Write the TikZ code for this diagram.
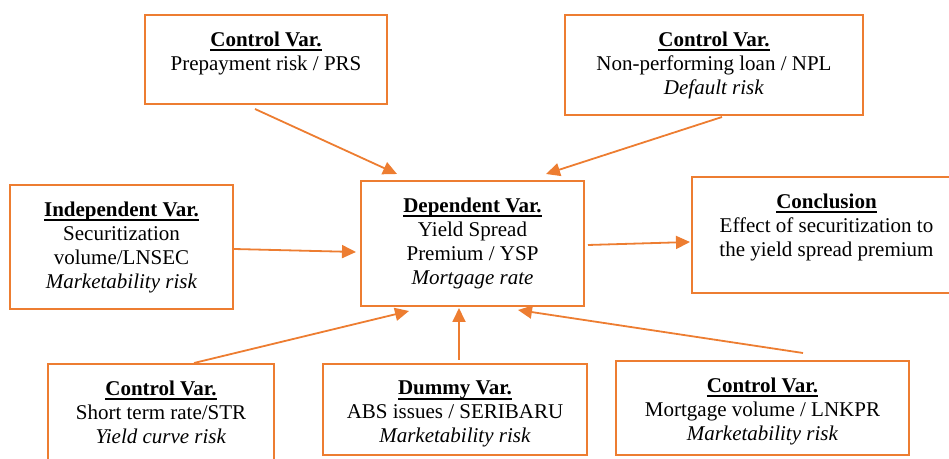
\documentclass[tikz,border=0pt]{standalone}
\usepackage{fontspec}
\setmainfont{Liberation Serif}
\usepackage{tikz}
\usetikzlibrary{arrows.meta, calc}
\definecolor{boxorange}{RGB}{237,125,49}
\newcommand{\varhead}[1]{\leavevmode\setbox0\hbox{\textbf{#1}}\rlap{\vrule height -1.3pt depth 2.3pt width \wd0}\box0}

\begin{document}
\begin{tikzpicture}[
    x=0.5pt, y=-0.5pt,
    varbox/.style={rectangle, draw=boxorange, line width=1pt, inner sep=0pt},
    vartext/.style={anchor=north, align=center, inner sep=0pt, font=\fontsize{10.5}{12}\selectfont, yshift=-8.9pt},
    arrow/.style={-{Triangle[length=7pt, width=6.5pt]}, color=boxorange, line width=0.9pt},
]

\useasboundingbox (0, 0) rectangle (949, 459);
\clip (0, 0) rectangle (949, 459);

% === Top row: control variables ===
\node[varbox, minimum width=121pt, minimum height=44.5pt] (prs) at (266, 59.5) {};
\node[varbox, minimum width=149pt, minimum height=50pt] (npl) at (714, 65) {};

% === Middle row ===
\node[varbox, minimum width=111.5pt, minimum height=62pt] (ind) at (121.5, 247) {};
\node[varbox, minimum width=111.5pt, minimum height=62.5pt] (dep) at (472.5, 243.5) {};
\node[varbox, minimum width=134.5pt, minimum height=58pt] (concl) at (826.5, 235) {};

% === Bottom row ===
\node[varbox, minimum width=113pt, minimum height=53pt] (str) at (161, 417) {};
\node[varbox, minimum width=132pt, minimum height=45.5pt] (dummy) at (455, 409.5) {};
\node[varbox, minimum width=146.5pt, minimum height=47pt] (lnkpr) at (762.5, 408) {};

% === Texts ===
\node[vartext] (prs-t) at (prs.north) {\varhead{Control Var.}\\Prepayment risk / PRS};
\node[vartext] (npl-t) at (npl.north) {\varhead{Control Var.}\\Non-performing loan / NPL\\\textit{Default risk}};
\node[vartext] (ind-t) at (ind.north) {\varhead{Independent Var.}\\Securitization\\volume/LNSEC\\\textit{Marketability risk}};
\node[vartext] (dep-t) at (dep.north) {\varhead{Dependent Var.}\\Yield Spread\\Premium / YSP\\\textit{Mortgage rate}};
\node[vartext] (concl-t) at (concl.north) {\varhead{Conclusion}\\Effect of securitization to\\the yield spread premium};
\node[vartext] (str-t) at (str.north) {\varhead{Control Var.}\\Short term rate/STR\\\textit{Yield curve risk}};
\node[vartext] (dummy-t) at (dummy.north) {\varhead{Dummy Var.}\\ABS issues / SERIBARU\\\textit{Marketability risk}};
\node[vartext] (lnkpr-t) at (lnkpr.north) {\varhead{Control Var.}\\Mortgage volume / LNKPR\\\textit{Marketability risk}};

% === Arrows into the dependent variable ===
\draw[arrow] ($(prs.south)+(-11,4)$) -- ($(dep.north)+(-75.5,-6)$);
\draw[arrow] ($(npl.south)+(8,1)$) -- ($(dep.north)+(73.5,-6)$);
\draw[arrow] ($(ind.east)+(0,2)$) -- ($(dep.west)+(-4,8.5)$);
\draw[arrow] ($(str.north)+(33,0)$) -- ($(dep.south)+(-63.5,4)$);
\draw[arrow] ($(dummy.north)+(4,-3)$) -- ($(dep.south)+(-13.5,1)$);
\draw[arrow] ($(lnkpr.north)+(40.5,-7)$) -- ($(dep.south)+(45.5,3)$);

% === Arrow to the conclusion ===
\draw[arrow] ($(dep.east)+(3,1.5)$) -- ($(concl.west)+(-1,7)$);

\end{tikzpicture}
\end{document}
